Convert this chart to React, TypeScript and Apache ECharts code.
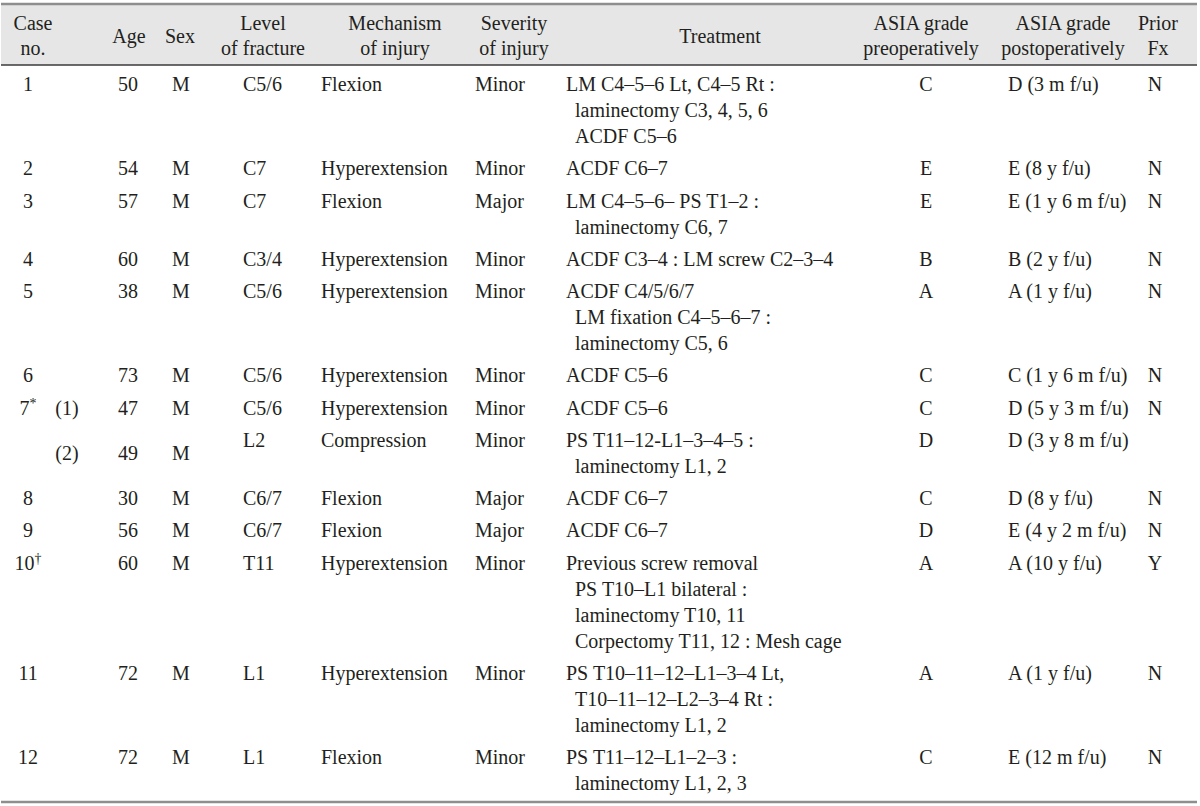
import React, { useEffect, useRef } from "react";
import * as echarts from "echarts";

// ---- data ----
const headerCase = ["Case", "no."];
const headerAge = ["Age"];
const headerSex = ["Sex"];
const headerLevel = ["Level", "of fracture"];
const headerMechanism = ["Mechanism", "of injury"];
const headerSeverity = ["Severity", "of injury"];
const headerTreatment = ["Treatment"];
const headerAsiaPre = ["ASIA grade", "preoperatively"];
const headerAsiaPost = ["ASIA grade", "postoperatively"];
const headerPrior = ["Prior", "Fx"];

const caseNo = ["1", "2", "3", "4", "5", "6", "7", "", "8", "9", "10", "11", "12"];
const caseMark = ["", "", "", "", "", "", "*", "", "", "", "†", "", ""];
const subNo = ["", "", "", "", "", "", "(1)", "(2)", "", "", "", "", ""];
const ages = [50, 54, 57, 60, 38, 73, 47, 49, 30, 56, 60, 72, 72];
const sexes = ["M", "M", "M", "M", "M", "M", "M", "M", "M", "M", "M", "M", "M"];
const levels = ["C5/6", "C7", "C7", "C3/4", "C5/6", "C5/6", "C5/6", "L2", "C6/7", "C6/7", "T11", "L1", "L1"];
const mechanisms = [
  "Flexion", "Hyperextension", "Flexion", "Hyperextension", "Hyperextension", "Hyperextension",
  "Hyperextension", "Compression", "Flexion", "Flexion", "Hyperextension", "Hyperextension", "Flexion",
];
const severities = ["Minor", "Minor", "Major", "Minor", "Minor", "Minor", "Minor", "Minor", "Major", "Major", "Minor", "Minor", "Minor"];
const treatments: string[][] = [
  ["LM C4–5–6 Lt, C4–5 Rt :", "laminectomy C3, 4, 5, 6", "ACDF C5–6"],
  ["ACDF C6–7"],
  ["LM C4–5–6– PS T1–2 :", "laminectomy C6, 7"],
  ["ACDF C3–4 : LM screw C2–3–4"],
  ["ACDF C4/5/6/7", "LM fixation C4–5–6–7 :", "laminectomy C5, 6"],
  ["ACDF C5–6"],
  ["ACDF C5–6"],
  ["PS T11–12-L1–3–4–5 :", "laminectomy L1, 2"],
  ["ACDF C6–7"],
  ["ACDF C6–7"],
  ["Previous screw removal", "PS T10–L1 bilateral :", "laminectomy T10, 11", "Corpectomy T11, 12 : Mesh cage"],
  ["PS T10–11–12–L1–3–4 Lt,", "T10–11–12–L2–3–4 Rt :", "laminectomy L1, 2"],
  ["PS T11–12–L1–2–3 :", "laminectomy L1, 2, 3"],
];
const asiaPre = ["C", "E", "E", "B", "A", "C", "C", "D", "C", "D", "A", "A", "C"];
const asiaPost = [
  "D (3 m f/u)", "E (8 y f/u)", "E (1 y 6 m f/u)", "B (2 y f/u)", "A (1 y f/u)", "C (1 y 6 m f/u)",
  "D (5 y 3 m f/u)", "D (3 y 8 m f/u)", "D (8 y f/u)", "E (4 y 2 m f/u)", "A (10 y f/u)", "A (1 y f/u)", "E (12 m f/u)",
];
const priorFx = ["N", "N", "N", "N", "N", "N", "N", "", "N", "N", "Y", "N", "N"];
// rows whose sub-number, age and sex sit in the middle of the row
const middleRows = [7];

// ---- layout / style ----
const FONT = "'Liberation Serif', 'Times New Roman', serif";
const FS = 20;
const INK = "#231f20";
const LINE = 26;
const GAP = 32.25;
const FIRST_Y = 84;
const HEAD_TOP = 4;
const HEAD_BOTTOM = 65;
const BOTTOM = 802;
const LEFT = 1;
const RIGHT = 1197;

function txt(text: string, x: number, y: number, align: string, extra: any = {}) {
  return {
    type: "text",
    x,
    y,
    silent: true,
    style: {
      text,
      fill: INK,
      fontSize: FS,
      fontFamily: FONT,
      align,
      verticalAlign: "middle",
      textAlign: align,
      textVerticalAlign: "middle",
      ...extra,
    },
  };
}

function headerCell(lines: string[], x: number, align = "center") {
  if (lines.length === 1) return [txt(lines[0], x, 35.5, align)];
  return lines.map((l, i) => txt(l, x, 23 + i * 25, align));
}

export default function App() {
  const ref = useRef<HTMLDivElement>(null);
  useEffect(() => {
    if (!ref.current) return;
    const chart = echarts.init(ref.current, undefined, { renderer: "svg" });
    const els: any[] = [];

    // header band and rules
    els.push({ type: "rect", shape: { x: LEFT, y: HEAD_TOP, width: RIGHT - LEFT, height: HEAD_BOTTOM - HEAD_TOP }, style: { fill: "#e6e6e6" }, silent: true });
    els.push({ type: "line", shape: { x1: LEFT, y1: HEAD_TOP, x2: RIGHT, y2: HEAD_TOP }, style: { stroke: "#8e8e8e", lineWidth: 2.5 }, silent: true });
    els.push({ type: "line", shape: { x1: LEFT, y1: HEAD_BOTTOM, x2: RIGHT, y2: HEAD_BOTTOM }, style: { stroke: "#3a3a3a", lineWidth: 1.5 }, silent: true });
    els.push({ type: "line", shape: { x1: LEFT, y1: BOTTOM, x2: RIGHT, y2: BOTTOM }, style: { stroke: "#8e8e8e", lineWidth: 2.5 }, silent: true });

    // headers
    els.push(...headerCell(headerCase, 33));
    els.push(...headerCell(headerAge, 129));
    els.push(...headerCell(headerSex, 180));
    els.push(...headerCell(headerLevel, 263));
    els.push(...headerCell(headerMechanism, 395));
    els.push(...headerCell(headerSeverity, 514));
    els.push(...headerCell(headerTreatment, 720));
    els.push(...headerCell(headerAsiaPre, 921));
    els.push(...headerCell(headerAsiaPost, 1063));
    els.push(...headerCell(headerPrior, 1158));

    // body rows
    let y = FIRST_Y;
    for (let i = 0; i < caseNo.length; i++) {
      const nLines = Math.max(1, treatments[i].length);
      const midY = y + ((nLines - 1) * LINE) / 2;
      const isMid = middleRows.includes(i);
      if (caseNo[i]) {
        els.push(
          txt(`{n|${caseNo[i]}}${caseMark[i] ? `{s|${caseMark[i]}}` : ""}`, 28, y, "center", {
            rich: {
              n: { fontSize: FS, fontFamily: FONT, fill: INK, color: INK, lineHeight: 22 },
              s: { fontSize: 14, fontFamily: FONT, fill: INK, color: INK, verticalAlign: "top", lineHeight: 22 },
            },
          })
        );
      }
      if (subNo[i]) els.push(txt(subNo[i], 67, isMid ? midY : y, "center"));
      els.push(txt(String(ages[i]), 128, isMid ? midY : y, "center"));
      els.push(txt(sexes[i], 181, isMid ? midY : y, "center"));
      els.push(txt(levels[i], 243, y, "left"));
      els.push(txt(mechanisms[i], 321, y, "left"));
      els.push(txt(severities[i], 475, y, "left"));
      treatments[i].forEach((t, k) => {
        els.push(txt(t, k === 0 ? 566 : 575, y + k * LINE, "left"));
      });
      els.push(txt(asiaPre[i], 926, y, "center"));
      els.push(txt(asiaPost[i], 1008, y, "left"));
      if (priorFx[i]) els.push(txt(priorFx[i], 1155, y, "center"));
      y += (nLines - 1) * LINE + GAP;
    }

    chart.setOption({
      animation: false,
      backgroundColor: "#ffffff",
      graphic: { elements: els },
    });
    return () => chart.dispose();
  }, []);
  return (
    <div
      ref={ref}
      style={{ position: "absolute", left: 0, top: 0, width: 1200, height: 806 }}
    />
  );
}
